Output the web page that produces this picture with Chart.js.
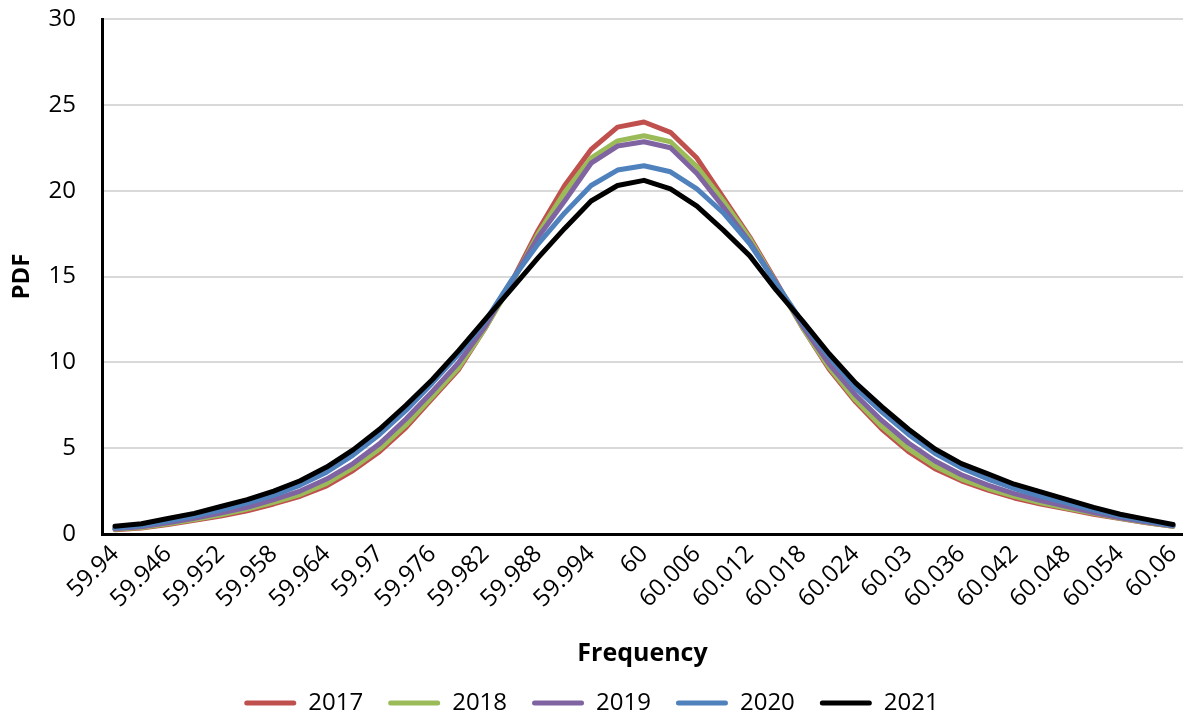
<!DOCTYPE html>
<html>
<head>
<meta charset="utf-8">
<script src="https://cdn.jsdelivr.net/npm/chart.js@4.4.1/dist/chart.umd.min.js"></script>
<style>
  html, body { margin: 0; padding: 0; background: #fff; overflow: hidden; }
  #wrap { width: 1183px; height: 717px; }
</style>
</head>
<body>
<div id="wrap"><canvas id="pdf-chart"></canvas></div>
<script>
const freq = [59.94, 59.943, 59.946, 59.949, 59.952, 59.955, 59.958, 59.961, 59.964, 59.967,
    59.97, 59.973, 59.976, 59.979, 59.982, 59.985, 59.988, 59.991, 59.994, 59.997,
    60, 60.003, 60.006, 60.009, 60.012, 60.015, 60.018, 60.021, 60.024, 60.027,
    60.03, 60.033, 60.036, 60.039, 60.042, 60.045, 60.048, 60.051, 60.054, 60.057, 60.06];

const tickLabels = ['59.94', '59.946', '59.952', '59.958', '59.964', '59.97', '59.976', '59.982',
    '59.988', '59.994', '60', '60.006', '60.012', '60.018', '60.024', '60.03', '60.036',
    '60.042', '60.048', '60.054', '60.06'];

const years = ['2017', '2018', '2019', '2020', '2021'];
const colors = ['#c0504d', '#9bbb59', '#8064a2', '#4f81bd', '#000000'];

const pdf2017 = [0.25, 0.35, 0.55, 0.8, 1.05, 1.35, 1.75, 2.2, 2.8, 3.7, 4.8, 6.2, 7.9, 9.6, 12.0,
    14.7, 17.7, 20.3, 22.4, 23.7, 24.0, 23.4, 21.9, 19.6, 17.3, 14.7,
    12.0, 9.6, 7.7, 6.1, 4.8, 3.8, 3.1, 2.55, 2.1, 1.75, 1.45, 1.15, 0.9, 0.65, 0.45];
const pdf2018 = [0.27, 0.38, 0.6, 0.85, 1.12, 1.45, 1.85, 2.3, 2.95, 3.85, 4.95, 6.35, 8.0, 9.7, 12.0,
    14.6, 17.5, 19.9, 21.9, 22.9, 23.2, 22.85, 21.4, 19.4, 17.2, 14.6,
    12.0, 9.7, 7.8, 6.25, 4.95, 3.95, 3.2, 2.65, 2.2, 1.82, 1.5, 1.2, 0.92, 0.67, 0.45];
const pdf2019 = [0.3, 0.42, 0.65, 0.92, 1.22, 1.55, 2.0, 2.5, 3.2, 4.1, 5.25, 6.7, 8.3, 10.0, 12.1,
    14.7, 17.3, 19.4, 21.6, 22.6, 22.85, 22.5, 21.0, 19.05, 17.0, 14.6,
    12.1, 9.9, 8.1, 6.6, 5.3, 4.25, 3.45, 2.85, 2.35, 1.95, 1.6, 1.25, 0.95, 0.7, 0.47];
const pdf2020 = [0.35, 0.5, 0.75, 1.05, 1.4, 1.8, 2.25, 2.85, 3.6, 4.6, 5.8, 7.2, 8.8, 10.5, 12.4,
    14.8, 16.9, 18.7, 20.3, 21.2, 21.45, 21.1, 20.1, 18.7, 16.9, 14.6,
    12.3, 10.3, 8.5, 7.1, 5.8, 4.7, 3.85, 3.2, 2.65, 2.2, 1.8, 1.4, 1.05, 0.75, 0.5];
const pdf2021 = [0.45, 0.6, 0.9, 1.2, 1.6, 2.0, 2.5, 3.1, 3.9, 4.9, 6.1, 7.5, 9.0, 10.7, 12.5,
    14.3, 16.1, 17.8, 19.4, 20.3, 20.6, 20.1, 19.1, 17.7, 16.2, 14.2,
    12.4, 10.5, 8.8, 7.4, 6.1, 4.95, 4.1, 3.5, 2.9, 2.45, 2.0, 1.55, 1.15, 0.85, 0.55];

const series = [pdf2017, pdf2018, pdf2019, pdf2020, pdf2021];

const font = 'Open Sans';

const datasets = series.map((values, i) => ({
    label: years[i],
    data: values.map((v, j) => ({ x: freq[j], y: v })),
    borderColor: colors[i],
    backgroundColor: colors[i],
    borderWidth: 5,
    pointRadius: 0,
    tension: 0,
    borderJoinStyle: 'round',
    borderCapStyle: 'round',
    order: series.length - i   // later years drawn on top
}));

const ctx = document.getElementById('pdf-chart').getContext('2d');
const chart = new Chart(ctx, {
    type: 'line',
    data: { datasets },
    options: {
        responsive: true,
        maintainAspectRatio: false,
        animation: false,
        layout: { padding: { top: 0, right: 0, bottom: -8, left: 0 } },
        plugins: {
            tooltip: { enabled: false },
            legend: {
                position: 'bottom',
                labels: {
                    color: '#000',
                    font: { family: font, size: 24 },
                    boxWidth: 52,
                    boxHeight: 5,
                    padding: 25,
                    useBorderRadius: true,
                    borderRadius: 2.5,
                    sort: (a, b) => a.datasetIndex - b.datasetIndex,
                    generateLabels: (c) => Chart.defaults.plugins.legend.labels.generateLabels(c)
                        .map(item => ({ ...item, lineWidth: 0, fillStyle: item.strokeStyle }))
                }
            }
        },
        scales: {
            x: {
                type: 'linear',
                min: 59.938526,
                max: 60.061134,
                afterBuildTicks: (scale) => {
                    scale.ticks = tickLabels.map(t => ({ value: parseFloat(t) }));
                },
                afterFit: (scale) => {
                    scale.height = 132;
                    scale.paddingLeft = 0;
                    scale.paddingRight = 0;
                },
                ticks: {
                    autoSkip: false,
                    minRotation: 45,
                    maxRotation: 45,
                    padding: 6,
                    color: '#000',
                    font: { family: font, size: 24 },
                    callback: (value, index) => tickLabels[index]
                },
                grid: { display: false, drawTicks: false },
                border: { color: '#000', width: 3 },
                title: {
                    display: true,
                    text: 'Frequency',
                    color: '#000',
                    font: { family: font, size: 25, weight: 'bold', lineHeight: 1 },
                    padding: { top: 0, bottom: 0 }
                }
            },
            y: {
                min: 0,
                max: 30,
                afterFit: (scale) => {
                    scale.width = 102;
                    scale.paddingTop = 19;
                },
                ticks: {
                    stepSize: 5,
                    padding: 26,
                    color: '#000',
                    font: { family: font, size: 24 }
                },
                grid: { color: '#d9d9d9', lineWidth: 2, drawTicks: false },
                border: { color: '#000', width: 3 },
                title: {
                    display: true,
                    text: 'PDF',
                    color: '#000',
                    font: { family: font, size: 24, weight: 'bold' },
                    padding: { top: 8, bottom: 0 }
                }
            }
        }
    }
});
</script>
</body>
</html>
